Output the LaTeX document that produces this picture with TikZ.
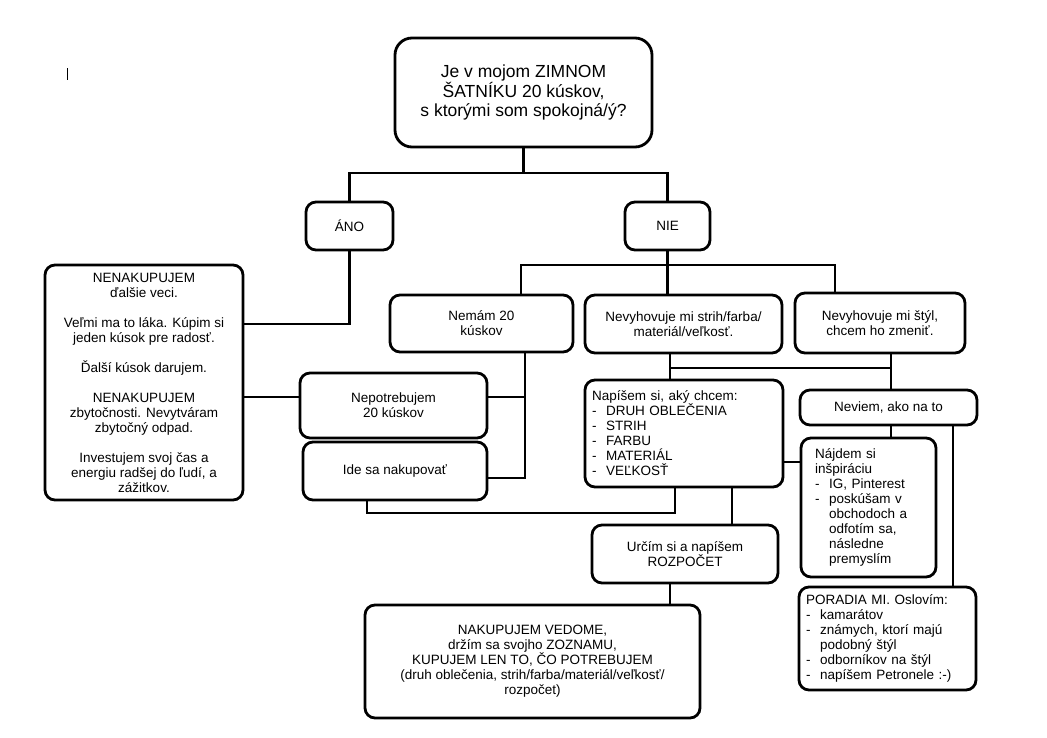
\documentclass[tikz,border=0pt]{standalone}
\usepackage{fontspec}
\setmainfont{Liberation Sans}
\tikzset{box/.style={draw=black, line width=2.8pt, rounded corners=10pt, align=center, inner sep=0pt, outer sep=0pt, font=\fontsize{13.5}{15}\selectfont},
%left aligned box, default padding 7pt
listbox/.style={box, align=left, inner xsep=#1},
listbox/.default={7pt},
link/.style={line width=2.8pt, line cap=rect}}
\newcommand{\itm}[1]{\makebox[14pt][l]{-}#1}
\newcommand{\cnt}[1]{\hspace*{14pt}#1}

\begin{document}
\begin{tikzpicture}[x=1pt, y=-1pt]
        \useasboundingbox (0,0) rectangle (1047,737);
        % cursor mark
        \draw[line width=1pt] (67,68) -- (67,80);

        % question
        \node[box, minimum width=257pt, minimum height=109pt, rounded corners=17pt, font=\fontsize{17.5}{19.5}\selectfont] (q) at (523.5,92.5) {Je v mojom ZIMNOM\\ŠATNÍKU 20 kúskov,\\s ktorými som spokojná/ý?};
        \node[box, minimum width=87pt, minimum height=48pt] (ano) at (349.5,226) {ÁNO};
        \node[box, minimum width=85pt, minimum height=48pt] (nie) at (667.5,226) {NIE};

        % yes side
        \node[box, minimum width=198pt, minimum height=235pt] (nenak) at (144,382.5) {NENAKUPUJEM\\ďalšie veci.\\[15pt]Veľmi ma to láka. Kúpim si\\jeden kúsok pre radosť.\\[15pt]Ďalší kúsok darujem.\\[15pt]NENAKUPUJEM\\zbytočnosti. Nevytváram\\zbytočný odpad.\\[15pt]Investujem svoj čas a\\energiu radšej do ľudí, a\\zážitkov.};

        % no side
        \node[box, minimum width=183pt, minimum height=57pt] (nemam) at (481.5,323.5) {Nemám 20\\kúskov};
        \node[box, minimum width=197pt, minimum height=58pt] (nesedi) at (683.5,324) {Nevyhovuje mi strih/farba/\\materiál/veľkosť.};
        \node[box, minimum width=170pt, minimum height=60pt] (styl) at (880,323) {Nevyhovuje mi štýl,\\chcem ho zmeniť.};
        \node[box, minimum width=187pt, minimum height=65pt] (nepot) at (393.5,405.5) {Nepotrebujem\\20 kúskov};
        \node[box, minimum width=184pt, minimum height=58pt] (ide) at (395,471) {Ide sa nakupovať};
        \node[listbox, text width=184pt, minimum height=107pt] (zoznam) at (684,433.5) {Napíšem si, aký chcem:\\\itm{DRUH OBLEČENIA}\\\itm{STRIH}\\\itm{FARBU}\\\itm{MATERIÁL}\\\itm{VEĽKOSŤ}};
        \node[box, minimum width=177pt, minimum height=35pt] (neviem) at (888.5,407.5) {Neviem, ako na to};
        \node[listbox=14pt, text width=107pt, minimum height=139pt] (inspir) at (868.5,507.5) {Nájdem si\\inšpiráciu\\\itm{IG, Pinterest}\\\itm{poskúšam v}\\\cnt{obchodoch a}\\\cnt{odfotím sa,}\\\cnt{následne}\\\cnt{premyslím}};
        \node[listbox, text width=163pt, minimum height=103pt] (poradia) at (887.5,638.5) {PORADIA MI. Oslovím:\\\itm{kamarátov}\\\itm{známych, ktorí majú}\\\cnt{podobný štýl}\\\itm{odborníkov na štýl}\\\itm{napíšem Petronele :-)}};
        \node[box, minimum width=186pt, minimum height=58pt] (rozpocet) at (685,554) {Určím si a napíšem\\ROZPOČET};
        \node[box, minimum width=335pt, minimum height=113pt] (nakup) at (532.5,661.5) {NAKUPUJEM VEDOME,\\držím sa svojho ZOZNAMU,\\KUPUJEM LEN TO, ČO POTREBUJEM\\(druh oblečenia, strih/farba/materiál/veľkosť/\\rozpočet)};

        % junctions
        \coordinate (jtop) at (523.5,173);
        \coordinate (jano) at (349.5,324);
        \coordinate (jl) at (521,265);
        \coordinate (jr) at (835,265);
        \coordinate (jn) at (525,478);
        \coordinate (jp) at (525,397);
        \coordinate (ji) at (367,513);
        \coordinate (jz) at (675,513);
        \coordinate (jm) at (670,368);
        \coordinate (js) at (891,368);
        \coordinate (jh) at (790,462);
        \coordinate (jx) at (732,500);
        \coordinate (jw) at (953,500);

        % lines
        \draw[link] (q.south) -- (jtop);
        \draw[link] (ano.north) |- (jtop) -| (nie.north);
        \draw[link] (ano.south) -- (jano) -- (jano -| nenak.east);
        \draw[link] (nie.south) -- (nie.south |- nesedi.north);
        \draw[link] (jl |- nemam.north) -- (jl) -- (jr) -- (jr |- styl.north);
        \draw[link] (jn |- nemam.south) -- (jn) -- (jn -| ide.east);
        \draw[link] (jp -| nenak.east) -- (jp -| nepot.west);
        \draw[link] (jp -| nepot.east) -- (jp);
        \draw[link] (ji |- ide.south) -- (ji) -- (jz) -- (jz |- zoznam.south);
        \draw[link] (jm |- nesedi.south) -- (jm |- zoznam.north);
        \draw[link] (jm) -- (js);
        \draw[link] (js |- styl.south) -- (js |- neviem.north);
        \draw[link] (jh -| zoznam.east) -- (jh -| inspir.west);
        \draw[link] (jx |- zoznam.south) -- (jx |- rozpocet.north);
        \draw[link] (jm |- rozpocet.south) -- (jm |- nakup.north);
        \draw[link] (js |- neviem.south) -- (js |- inspir.north);
        \draw[link] (jw |- neviem.south) -- (jw |- poradia.north);

\end{tikzpicture}
\end{document}
